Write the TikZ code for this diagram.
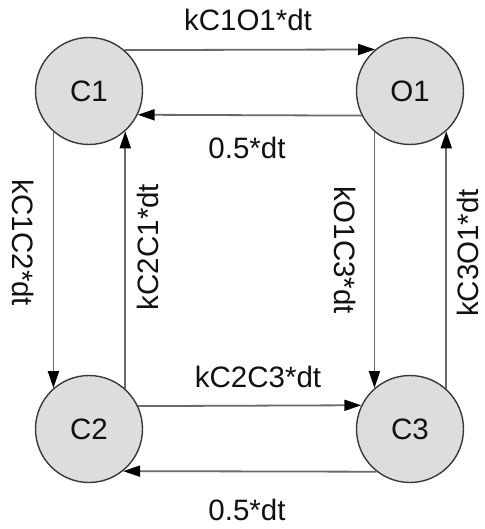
\documentclass[tikz,border=0pt]{standalone}
\usepackage{fontspec}
\setmainfont{Liberation Sans}
\usetikzlibrary{arrows.meta}
\definecolor{statefill}{HTML}{DDDDDD}
\definecolor{stateline}{HTML}{3A3A3A}
\definecolor{edgeline}{HTML}{6A6A6A}
\definecolor{txt}{HTML}{111111}
\begin{document}
\begin{tikzpicture}[x=1pt,y=-1pt,
  state/.style={circle,draw=stateline,fill=statefill,line width=1.4pt,minimum size=107pt,inner sep=0pt,text=txt,font=\fontsize{29.5}{34}\selectfont},
  lbl/.style={text=txt,font=\fontsize{29.5}{34}\selectfont,inner sep=0pt},
  trans/.style={draw=edgeline,line width=1.8pt,-{Triangle[length=17pt,width=11pt,fill=black,color=black]}}
]
\useasboundingbox (0,0) rectangle (484,529);
\node[state] (C1) at (89,91) {C1};
\node[state] (O1) at (410,91) {O1};
\node[state] (C2) at (89,429) {C2};
\node[state] (C3) at (410,429) {C3};

\draw[trans] (C1.49.4) -- (O1.130.6);
\draw[trans] (O1.-153.6) -- (C1.-26.4);
\draw[trans] (C2.25.2) -- (C3.154.8);
\draw[trans] (C3.-128.9) -- (C2.-51.1);
\draw[trans] (C1.-131.8) -- (C2.131.8);
\draw[trans] (C2.48.2) -- (C1.-48.2);
\draw[trans] (O1.-131.8) -- (C3.131.8);
\draw[trans] (C3.48.2) -- (O1.-48.2);

\node[lbl] (l1) at (248,20) {kC1O1*dt};
\node[lbl] (l2) at (247,148) {0.5*dt};
\node[lbl] (l3) at (258,377) {kC2C3*dt};
\node[lbl] (l4) at (247,510) {0.5*dt};
\node[lbl,rotate=-90] (l5) at (23,243) {kC1C2*dt};
\node[lbl,rotate=90] (l6) at (148,247) {kC2C1*dt};
\node[lbl,rotate=-90] (l7) at (345,250) {kO1C3*dt};
\node[lbl,rotate=90] (l8) at (468,253) {kC3O1*dt};
\end{tikzpicture}
\end{document}
